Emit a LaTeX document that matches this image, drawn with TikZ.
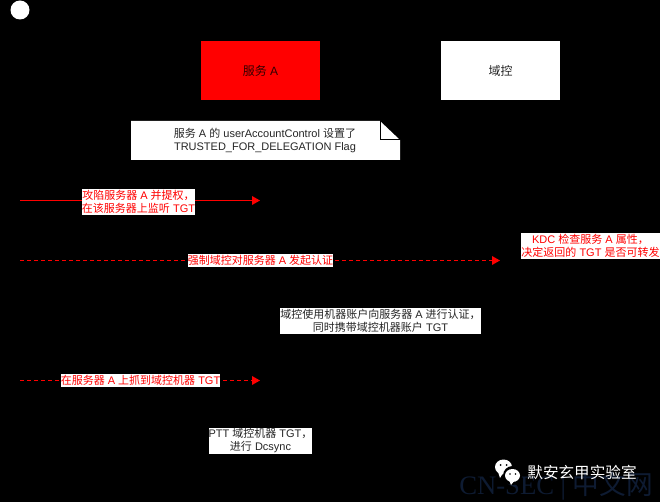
\documentclass[tikz,border=0pt]{standalone}
\usepackage{fontspec}
\usetikzlibrary{arrows.meta}
\setmainfont{Liberation Sans}
\newfontfamily\zhfont{Noto Sans CJK SC}
\newfontfamily\wmfont{Liberation Serif}
\newcommand{\zh}[1]{{\zhfont #1}}
\definecolor{wmblue}{RGB}{14,27,50}
\tikzset{
  x=0.75pt,y=-0.75pt,
  labelbox/.style={fill=white,inner sep=0,outer sep=0,align=center,font=\fontsize{8.25}{9.75}\selectfont,text=red},
  flow/.style={draw=red,line width=1pt,-{Triangle[length=6pt,width=6.5pt]}},
  dflow/.style={flow,dash pattern=on 3pt off 2.25pt},
  party/.style={inner sep=0,outer sep=0,minimum width=89.25pt,minimum height=44.25pt,font=\fontsize{9}{11}\selectfont},
}
\begin{document}
\begin{tikzpicture}
\useasboundingbox (0,0) rectangle (660,502);
\fill[black] (0,0) rectangle (660,502);
\fill[white] (20,10) circle[radius=9.5];
\node[party,fill=red,text=black!80!red] (svc) at (260.5,70.5) {\zh{服务} A};
\node[party,fill=white,text=black!85] (dc) at (500.5,70.5) {\zh{域控}};
% note
\fill[white] (131,121) -- (380,121) -- (400,140) -- (400,160) -- (131,160) -- cycle;
\draw[black,line width=0.75pt] (380,121) -- (380,140) -- (400,140);
\node[labelbox,fill=none,text=black!85] (note) at (265,140.5) {\zh{服务} A \zh{的} userAccountControl \zh{设置了}\\TRUSTED\_FOR\_DELEGATION Flag};
% arrows
\coordinate (a1s) at (20,200.5); \coordinate (a1e) at (260,200.5);
\coordinate (a2s) at (20,260.5); \coordinate (a2e) at (500,260.5);
\coordinate (a3s) at (20,380.5); \coordinate (a3e) at (260,380.5);
\draw[flow] (a1s) -- (a1e);
\draw[dflow] (a2s) -- (a2e);
\draw[dflow] (a3s) -- (a3e);
\node[labelbox,minimum width=84.75pt,minimum height=19.5pt] (l1) at (138.5,202) {\zh{攻陷服务器} A \zh{并提权，}\\\zh{在该服务器上监听} TGT};
\node[labelbox,minimum width=108.75pt,minimum height=9.75pt] (l2) at (260.5,260.5) {\zh{强制域控对服务器} A \zh{发起认证}};
\node[labelbox,minimum width=119.25pt,minimum height=9.75pt] (l3) at (140.5,380.5) {\zh{在服务器} A \zh{上抓到域控机器} TGT};
\node[labelbox,minimum width=104.25pt,minimum height=19.5pt] (kdc) at (590.5,246) {KDC \zh{检查服务} A \zh{属性，}\\\zh{决定返回的} TGT \zh{是否可转发}};
\node[labelbox,text=black!85,minimum width=150.75pt,minimum height=19.5pt] (auth) at (380.5,321) {\zh{域控使用机器账户向服务器} A \zh{进行认证，}\\\zh{同时携带域控机器账户} TGT};
\node[labelbox,text=black!85,minimum width=77.25pt,minimum height=19.5pt] (ptt) at (260.5,441) {PTT \zh{域控机器} TGT\zh{，}\\\zh{进行} Dcsync};
% watermark
\node[inner sep=0,text=wmblue,font=\wmfont\fontsize{20}{22}\selectfont] (wm2) at (556,486.5) {CN-SEC | \zh{中文网}};
\node[inner sep=0,text=white,font=\fontsize{11.7}{13}\selectfont] (wm1) at (582,472) {\zh{默安玄甲实验室}};
\fill[white] (503.5,467) ellipse[x radius=8.5,y radius=7.5];
\fill[white] (498,472) -- (500,478) -- (503,473) -- cycle;
\fill[black] (512.5,475.5) circle[radius=9.5];
\fill[white] (512.5,475.5) ellipse[x radius=7.5,y radius=6.5];
\fill[white] (509,480) -- (511,485) -- (515,480) -- cycle;
\fill[black] (500.5,465) circle[radius=1] (506.5,465) circle[radius=1] (510,474) circle[radius=.9] (515.5,474) circle[radius=.9];
\end{tikzpicture}
\end{document}
